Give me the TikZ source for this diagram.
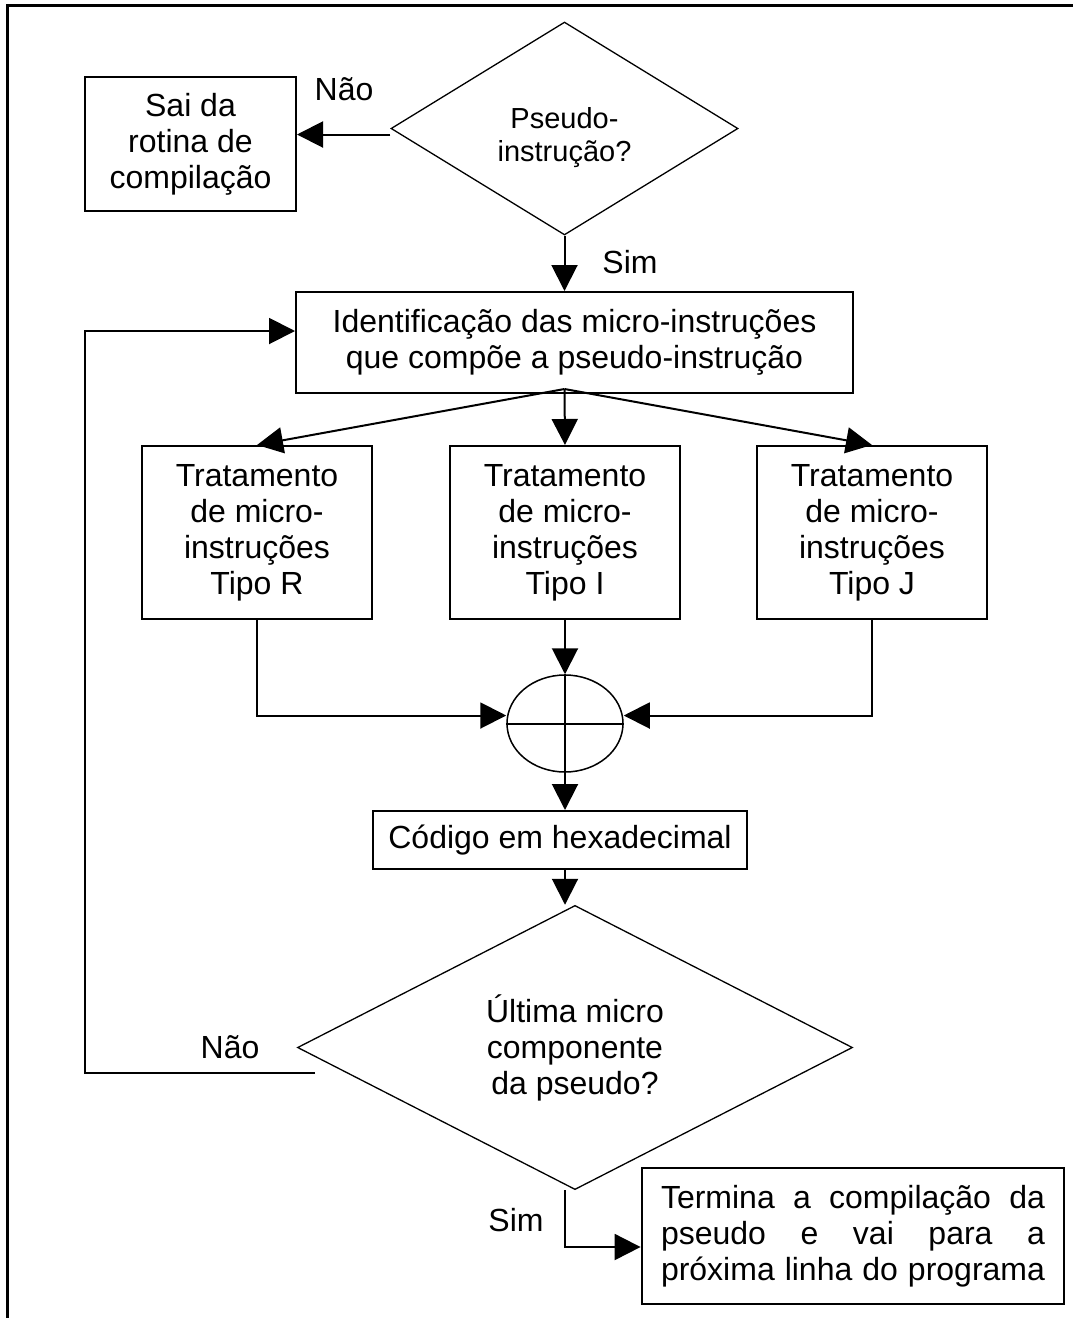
\documentclass[tikz,border=0pt]{standalone}
\usepackage{fontspec}
\setmainfont{Liberation Sans}
\usetikzlibrary{shapes.geometric,arrows.meta}

\begin{document}
\begin{tikzpicture}[x=1pt, y=-1pt,
  font=\fontsize{32}{36}\selectfont,
  box/.style={draw, line width=2pt, rectangle, inner sep=0pt, align=center},
  decision/.style={draw, line width=1.3pt, diamond, inner sep=0pt, align=center},
  arr/.style={line width=2pt, -{Triangle[length=26pt, width=26pt]}},
  lbl/.style={inner sep=0pt}]
  \useasboundingbox (0,0) rectangle (1073,1318);
  \draw[line width=3pt] (7,1318) -- (7,5) -- (1073,5);
  % top decision
  \node[decision, minimum width=347pt, minimum height=211pt, font=\fontsize{29}{33}\selectfont] (pseudo) at (564.5,128.5) {\rule{0pt}{40pt}Pseudo-\\instrução?};
  \node[box, minimum width=211pt, minimum height=134pt] (sai) at (190.5,144) {Sai da\\rotina de\\compilação};
  \node[lbl] (nao1) at (344,89) {Não};
  \node[lbl] (sim1) at (630,262) {Sim};
  \node[box, minimum width=557pt, minimum height=101pt] (ident) at (574.5,342.5) {Identificação das micro-instruções\\que compõe a pseudo-instrução};
  % the three kinds
  \node[box, minimum width=230pt, minimum height=173pt] (tipoR) at (257,532.5) {Tratamento\\de micro-\\instruções\\Tipo R};
  \node[box, minimum width=230pt, minimum height=173pt] (tipoI) at (565,532.5) {Tratamento\\de micro-\\instruções\\Tipo I};
  \node[box, minimum width=230pt, minimum height=173pt] (tipoJ) at (872,532.5) {Tratamento\\de micro-\\instruções\\Tipo J};
  \node[draw, line width=1.5pt, ellipse, minimum width=116pt, minimum height=97pt, inner sep=0pt] (junta) at (565,723.5) {};
  \node[box, minimum width=374pt, minimum height=58pt] (hexa) at (560,840) {Código em hexadecimal};
  % bottom decision
  \node[decision, minimum width=555pt, minimum height=243pt] (ultima) at (575,1047.5) {Última micro\\componente\\da pseudo?};
  \node[lbl] (nao2) at (230,1047) {Não};
  \node[lbl] (sim2) at (516,1220) {Sim};
  \node[box, line width=2.8pt, minimum width=422pt, minimum height=136pt] (termina) at (853,1236) {\makebox[384pt][s]{Termina a compilação da}\\\makebox[384pt][s]{pseudo e vai para a}\\\makebox[384pt][s]{próxima linha do programa}};
  \coordinate (fan) at ([yshift=5pt]pseudo.south |- ident.south);
  \coordinate (volta) at (315,1073);
  % connectors
  \draw[arr] ([yshift=-6pt]pseudo.west) -- ([yshift=-6pt]pseudo.west -| sai.east);
  \draw[arr] (pseudo.south) -- (pseudo.south |- ident.north);
  \foreach \t in {tipoR,tipoI,tipoJ}
    \draw[arr] (fan) -- (\t.north);
  \draw[arr] (tipoI.south) -- (junta.north);
  \draw[arr] (tipoR.south) |- ([yshift=8pt]junta.west);
  \draw[arr] (tipoJ.south) |- ([yshift=8pt]junta.east);
  \draw[line width=2pt] (junta.north) -- (junta.south) (junta.west) -- (junta.east);
  \draw[arr] (junta.south) -- (junta.south |- hexa.north);
  \draw[arr] (junta.south |- hexa.south) -- (junta.south |- ultima.north);
  \draw[arr] (junta.south |- ultima.south) |- ([yshift=-11pt]termina.west);
  \draw[arr] (volta) -- ++(-230,0) |- ([yshift=11.5pt]ident.west);
\end{tikzpicture}
\end{document}
